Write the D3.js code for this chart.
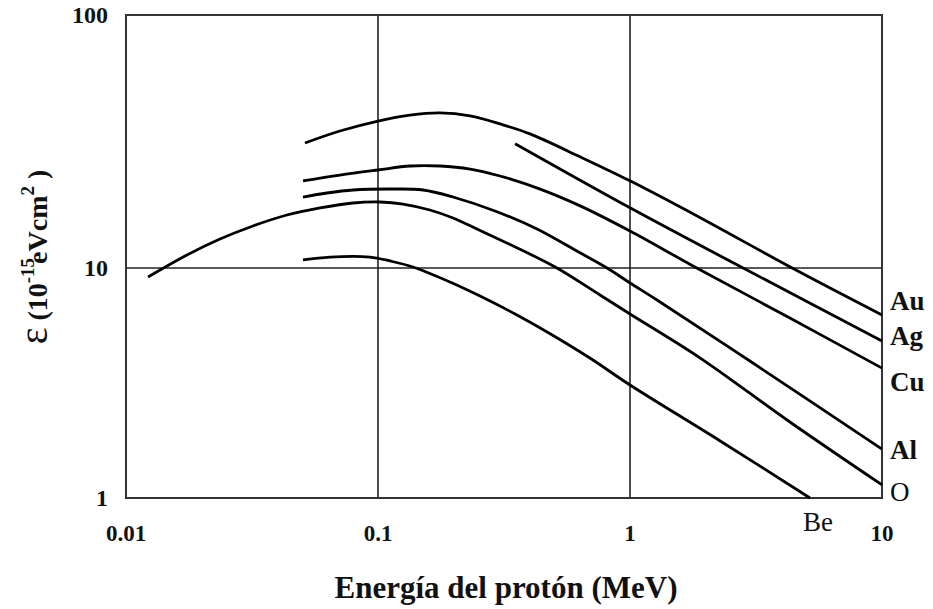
<!DOCTYPE html>
<html>
<head>
<meta charset="utf-8">
<script src="https://cdn.jsdelivr.net/npm/d3@7"></script>
<style>
  body { margin: 0; background: #fff; }
  text { font-family: "Liberation Serif", "Times New Roman", serif; fill: #111; }
</style>
</head>
<body>
<svg width="933" height="609"></svg>
<script>
// tick values
var xTicks = [0.01, 0.1, 1, 10];
var xTickLabels = ["0.01", "0.1", "1", "10"];
var yTicks = [1, 10, 100];
var yTickLabels = ["1", "10", "100"];

// stopping power curves, E in MeV, eps in 1e-15 eV cm2
var auE   = [0.0513, 0.0706, 0.1, 0.134, 0.176, 0.232, 0.305, 0.401, 0.634, 1, 1.90, 4.40, 10];
var auEps = [31.2, 34.8, 38.1, 40.2, 41.0, 39.9, 37.1, 33.9, 27.5, 22.1, 15.8, 10, 6.25];

var agE   = [0.35, 1, 2.81, 10];
var agEps = [31.0, 17.3, 10, 4.82];

var cuE   = [0.0504, 0.0706, 0.1, 0.134, 0.176, 0.232, 0.305, 0.44, 0.634, 1, 1.84, 4.31, 10];
var cuEps = [22.1, 23.3, 24.4, 25.3, 25.3, 24.6, 23.1, 20.5, 17.6, 14.0, 10, 6.06, 3.67];

var alE   = [0.0504, 0.0627, 0.0796, 0.1116, 0.151, 0.1984, 0.2912, 0.4276, 0.605, 0.811, 1, 1.28, 2.99, 10];
var alEps = [19.08, 19.79, 20.34, 20.52, 20.34, 19.08, 16.8, 14.26, 11.78, 10, 8.61, 7.26, 3.94, 1.63];

var oE    = [0.01223, 0.01746, 0.0236, 0.0319, 0.0435, 0.0589, 0.0796, 0.102, 0.1256, 0.1607, 0.1984, 0.247, 0.357, 0.513, 0.760, 1, 1.90, 4.31, 10];
var oEps  = [9.14, 11.26, 13.02, 14.66, 16.2, 17.27, 18.07, 18.23, 17.9, 16.95, 15.76, 14.26, 12.0, 10, 7.63, 6.31, 4.06, 2.14, 1.14];

var beE   = [0.0504, 0.0645, 0.0929, 0.1116, 0.1377, 0.193, 0.254, 0.35, 0.469, 0.693, 1, 2.28, 5.18];
var beEps = [10.76, 11.05, 11.05, 10.66, 10.09, 8.69, 7.55, 6.31, 5.27, 4.06, 3.10, 1.77, 1];

var series = [
  {name: "Au", E: auE, eps: auEps},
  {name: "Ag", E: agE, eps: agEps},
  {name: "Cu", E: cuE, eps: cuEps},
  {name: "Al", E: alE, eps: alEps},
  {name: "O",  E: oE,  eps: oEps},
  {name: "Be", E: beE, eps: beEps}
];

var svg = d3.select("svg");

var x = d3.scaleLog().domain([0.01, 10]).range([126, 882]);
// the scan has uneven decades on the y axis
var y = d3.scaleLog().domain([1, 10, 100]).range([498, 268, 15]);

// grid
svg.append("g").selectAll("line")
    .data([0.1, 1])
    .enter().append("line")
    .attr("x1", function(d) { return x(d); })
    .attr("x2", function(d) { return x(d); })
    .attr("y1", y(100)).attr("y2", y(1))
    .attr("stroke", "#222").attr("stroke-width", 1.6);

svg.append("line")
    .attr("x1", x(0.01)).attr("x2", x(10))
    .attr("y1", y(10)).attr("y2", y(10))
    .attr("stroke", "#222").attr("stroke-width", 1.6);

// frame
svg.append("rect")
    .attr("x", x(0.01)).attr("y", y(100))
    .attr("width", x(10) - x(0.01)).attr("height", y(1) - y(100))
    .attr("fill", "none").attr("stroke", "#333").attr("stroke-width", 2);

// curves
var line = d3.line()
    .x(function(d) { return x(d[0]); })
    .y(function(d) { return y(d[1]); })
    .curve(d3.curveCatmullRom.alpha(0.5));

svg.append("g").selectAll("path")
    .data(series)
    .enter().append("path")
    .attr("d", function(s) { return line(d3.zip(s.E, s.eps)); })
    .attr("fill", "none")
    .attr("stroke", "#000")
    .attr("stroke-width", 2.8)
    .attr("stroke-linejoin", "round");

// element labels
var labelDy = {Au: -14, Ag: -5, Cu: 13, Al: 0, O: 7};
series.forEach(function(s) {
    var last = s.E.length - 1;
    var t = svg.append("text")
        .attr("font-size", 27)
        .attr("dy", "0.35em")
        .attr("font-weight", (s.name == "O" || s.name == "Be") ? "normal" : "bold")
        .text(s.name);
    if (s.name == "Be") {
        t.attr("x", x(s.E[last]) + 8).attr("y", y(1) + 24).attr("text-anchor", "middle");
    } else {
        t.attr("x", x(10) + 8).attr("y", y(s.eps[last]) + labelDy[s.name]);
    }
});

// x tick labels
svg.append("g").selectAll("text")
    .data(xTicks)
    .enter().append("text")
    .attr("x", function(d) { return x(d); })
    .attr("y", 541)
    .attr("text-anchor", "middle")
    .attr("font-size", 23)
    .attr("font-weight", "bold")
    .text(function(d, i) { return xTickLabels[i]; });

// y tick labels
svg.append("g").selectAll("text")
    .data(yTicks)
    .enter().append("text")
    .attr("x", 108)
    .attr("y", function(d) { return y(d); })
    .attr("dy", "0.35em")
    .attr("text-anchor", "end")
    .attr("font-size", 24)
    .attr("font-weight", "bold")
    .text(function(d, i) { return yTickLabels[i]; });

// x axis title
svg.append("text")
    .attr("x", 506).attr("y", 598)
    .attr("text-anchor", "middle")
    .attr("font-size", 31)
    .attr("font-weight", "bold")
    .text("Energía del protón (MeV)");

// y axis title
var yt = svg.append("text")
    .attr("transform", "translate(47,257) rotate(-90)")
    .attr("text-anchor", "middle")
    .attr("font-weight", "bold")
    .attr("font-size", 28);
yt.append("tspan").attr("font-size", 40).attr("font-weight", "normal").text("ε");
yt.append("tspan").text(" (10");
yt.append("tspan").attr("font-size", 19).attr("dy", -13).text("-15");
yt.append("tspan").attr("dy", 13).attr("dx", -6).text("eVcm");
yt.append("tspan").attr("font-size", 19).attr("dy", -13).text("2");
yt.append("tspan").attr("dy", 13).text(" )");
</script>
</body>
</html>
